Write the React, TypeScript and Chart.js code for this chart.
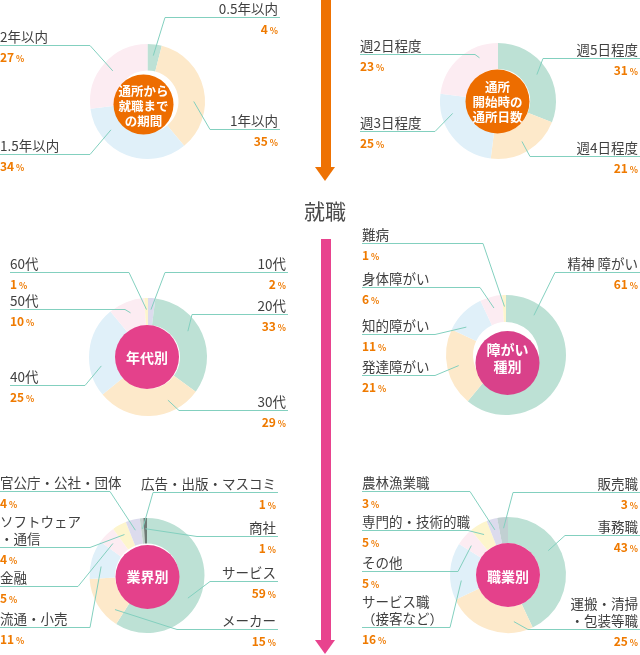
import React, { useEffect, useRef } from "react";
import { Chart, registerables } from "chart.js";

Chart.register(...registerables);

// ---------- data ----------
const periodLabels = ["0.5年以内", "1年以内", "1.5年以内", "2年以内"];
const periodValues = [4, 35, 34, 27];

const daysLabels = ["週5日程度", "週4日程度", "週3日程度", "週2日程度"];
const daysValues = [31, 21, 25, 23];

const ageLabels = ["10代", "20代", "30代", "40代", "50代", "60代"];
const ageValues = [2, 33, 29, 25, 10, 1];

const disabilityLabels = ["精神 障がい", "発達障がい", "知的障がい", "身体障がい", "難病"];
const disabilityValues = [61, 21, 11, 6, 1];

const industryLabels = ["サービス", "メーカー", "流通・小売", "金融", "ソフトウェア・通信", "官公庁・公社・団体", "広告・出版・マスコミ", "商社"];
const industryValues = [59, 15, 11, 5, 4, 4, 1, 1];

const jobLabels = ["事務職", "運搬・清掃・包装等職", "サービス職（接客など）", "その他", "専門的・技術的職", "農林漁業職", "販売職"];
const jobValues = [43, 25, 16, 5, 5, 3, 3];

// ---------- styles ----------
const GREEN = "#bde1d5";
const PEACH = "#fde9ca";
const BLUE = "#e0f0f9";
const PINK = "#fcecf2";
const YELLOW = "#fdf5cd";
const LAVENDER = "#dcdbed";
const GRAYGREEN = "#c4d3ce";
const DARKGRAY = "#6e7b76";
const GRAYBLUE = "#c1d0d2";
const ORANGE = "#ed6d00";
const MAGENTA = "#e4418b";
const LEADER = "#83d0bf";
const TEXT = "#404040";
const PCT = "#ef7a00";
const FONT = '"Noto Sans CJK JP", "Noto Sans", sans-serif';

// at: where along the slice (0..1 of its angle) the leader line starts
type LabelPos = { side: "L" | "R"; uy: number; xa: number; xe: number; lines?: string[]; at?: number };

interface DonutSpec {
  region: [number, number, number, number];
  cx: number;
  cy: number;
  r: number;
  cutout: number;
  circle: { x: number; y: number; r: number; color: string };
  centerLines: string[];
  centerFont: number;
  centerLH: number;
  centerY: number;
  labels: string[];
  values: number[];
  colors: string[];
  layout: LabelPos[];
}

const specs: DonutSpec[] = [
  {
    region: [0, 0, 315, 180],
    cx: 147.5, cy: 101.5, r: 57.5, cutout: 31,
    circle: { x: 143.5, y: 104.5, r: 30, color: ORANGE },
    centerLines: ["通所から", "就職まで", "の期間"], centerFont: 12.5, centerLH: 15, centerY: 105,
    labels: periodLabels, values: periodValues,
    colors: [GREEN, PEACH, BLUE, PINK],
    layout: [
      { side: "R", uy: 17, xa: 280, xe: 165 },
      { side: "R", uy: 129, xa: 280, xe: 210, at: 0.6 },
      { side: "L", uy: 154, xa: 0, xe: 90, at: 0.75 },
      { side: "L", uy: 45, xa: 0, xe: 90 },
    ],
  },
  {
    region: [337, 0, 303, 180],
    cx: 498, cy: 101, r: 58, cutout: 32,
    circle: { x: 497.5, y: 101.5, r: 32, color: ORANGE },
    centerLines: ["通所", "開始時の", "通所日数"], centerFont: 12.5, centerLH: 15, centerY: 101.5,
    labels: daysLabels, values: daysValues,
    colors: [GREEN, PEACH, BLUE, PINK],
    layout: [
      { side: "R", uy: 58, xa: 640, xe: 543 },
      { side: "R", uy: 156, xa: 640, xe: 530 },
      { side: "L", uy: 131, xa: 360, xe: 435, at: 0.75 },
      { side: "L", uy: 54, xa: 360, xe: 475, at: 0.72 },
    ],
  },
  {
    region: [0, 220, 315, 215],
    cx: 148, cy: 357, r: 59, cutout: 32,
    circle: { x: 147, y: 357, r: 32, color: MAGENTA },
    centerLines: ["年代別"], centerFont: 14, centerLH: 17, centerY: 357,
    labels: ageLabels, values: ageValues,
    colors: [LAVENDER, GREEN, PEACH, BLUE, PINK, YELLOW],
    layout: [
      { side: "R", uy: 272, xa: 288, xe: 165 },
      { side: "R", uy: 314, xa: 288, xe: 192, at: 0.42 },
      { side: "R", uy: 410, xa: 288, xe: 179, at: 0.28 },
      { side: "L", uy: 385, xa: 10, xe: 85, at: 0.32 },
      { side: "L", uy: 309, xa: 10, xe: 125 },
      { side: "L", uy: 272, xa: 10, xe: 129 },
    ],
  },
  {
    region: [337, 220, 303, 215],
    cx: 506, cy: 355, r: 60, cutout: 33,
    circle: { x: 507.5, y: 363, r: 32, color: "#d9418a" },
    centerLines: ["障がい", "種別"], centerFont: 14, centerLH: 17, centerY: 358,
    labels: disabilityLabels, values: disabilityValues,
    colors: [GREEN, PEACH, BLUE, PINK, YELLOW],
    layout: [
      { side: "R", uy: 272, xa: 640, xe: 555, at: 0.16 },
      { side: "L", uy: 375, xa: 362, xe: 435 },
      { side: "L", uy: 334, xa: 362, xe: 435, at: 0.25 },
      { side: "L", uy: 287, xa: 362, xe: 480 },
      { side: "L", uy: 243, xa: 362, xe: 483 },
    ],
  },
  {
    region: [0, 440, 315, 215],
    cx: 147, cy: 575.5, r: 57.5, cutout: 32,
    circle: { x: 147.5, y: 577, r: 32, color: MAGENTA },
    centerLines: ["業界別"], centerFont: 14, centerLH: 17, centerY: 576,
    labels: industryLabels, values: industryValues,
    colors: [GREEN, PEACH, BLUE, PINK, YELLOW, LAVENDER, GRAYGREEN, DARKGRAY],
    layout: [
      { side: "R", uy: 581, xa: 278, xe: 210, at: 0.56 },
      { side: "R", uy: 629, xa: 278, xe: 177, at: 0.2 },
      { side: "L", uy: 627, xa: 0, xe: 90, at: 0.37 },
      { side: "L", uy: 586, xa: 0, xe: 78, at: 0.4 },
      { side: "L", uy: 547, xa: 0, xe: 90, lines: ["ソフトウェア", "・通信"] },
      { side: "L", uy: 491, xa: 0, xe: 110 },
      { side: "R", uy: 492, xa: 278, xe: 153 },
      { side: "R", uy: 536, xa: 278, xe: 197 },
    ],
  },
  {
    region: [337, 440, 303, 215],
    cx: 508, cy: 575, r: 58, cutout: 32,
    circle: { x: 508, y: 575, r: 32, color: MAGENTA },
    centerLines: ["職業別"], centerFont: 14, centerLH: 17, centerY: 576,
    labels: jobLabels, values: jobValues,
    colors: [GREEN, PEACH, BLUE, PINK, YELLOW, LAVENDER, GRAYBLUE],
    layout: [
      { side: "R", uy: 535, xa: 640, xe: 565, at: 0.38 },
      { side: "R", uy: 629, xa: 640, xe: 528, lines: ["運搬・清掃", "・包装等職"], at: 0.2 },
      { side: "L", uy: 627, xa: 362, xe: 450, lines: ["サービス職", "（接客など）"], at: 0.32 },
      { side: "L", uy: 571, xa: 362, xe: 458, at: 0.35 },
      { side: "L", uy: 530, xa: 362, xe: 468 },
      { side: "L", uy: 491, xa: 362, xe: 470 },
      { side: "R", uy: 492, xa: 640, xe: 513 },
    ],
  },
];

function leaderPlugin(spec: DonutSpec) {
  return {
    id: "leaders",
    afterDatasetsDraw(chart: any) {
      const ctx = chart.ctx as CanvasRenderingContext2D;
      const meta = chart.getDatasetMeta(0);
      const [rx, ry] = spec.region;
      ctx.save();
      ctx.fillStyle = spec.circle.color;
      ctx.beginPath();
      ctx.arc(spec.circle.x - rx, spec.circle.y - ry, spec.circle.r, 0, Math.PI * 2);
      ctx.fill();
      ctx.strokeStyle = LEADER;
      ctx.lineWidth = 1;
      meta.data.forEach((arc: any, i: number) => {
        const L = spec.layout[i];
        if (!L) return;
        const p = arc.getProps(["x", "y", "startAngle", "endAngle", "innerRadius", "outerRadius"], false);
        const f = L.at === undefined ? 0.5 : L.at;
        const ang = p.startAngle + f * (p.endAngle - p.startAngle);
        const rad = (p.innerRadius + p.outerRadius) / 2 + 2;
        ctx.beginPath();
        ctx.moveTo(p.x + Math.cos(ang) * rad, p.y + Math.sin(ang) * rad);
        ctx.lineTo(L.xe - rx, L.uy - ry + 0.5);
        ctx.lineTo(L.xa - rx, L.uy - ry + 0.5);
        ctx.stroke();
      });
      ctx.restore();
    },
  };
}

function Donut({ spec }: { spec: DonutSpec }) {
  const ref = useRef<HTMLCanvasElement | null>(null);
  useEffect(() => {
    if (!ref.current) return;
    const [rx, ry, rw, rh] = spec.region;
    const chart = new Chart(ref.current, {
      type: "doughnut",
      data: {
        labels: spec.labels,
        datasets: [
          {
            data: spec.values,
            backgroundColor: spec.colors,
            borderWidth: 0,
            hoverOffset: 0,
          },
        ],
      },
      options: {
        responsive: true,
        maintainAspectRatio: false,
        animation: false,
        cutout: spec.cutout,
        events: [],
        layout: {
          padding: {
            left: spec.cx - spec.r - rx,
            top: spec.cy - spec.r - ry,
            right: rx + rw - (spec.cx + spec.r),
            bottom: ry + rh - (spec.cy + spec.r),
          },
        },
        plugins: { legend: { display: false }, tooltip: { enabled: false } },
      } as any,
      plugins: [leaderPlugin(spec)],
    });
    return () => chart.destroy();
  }, [spec]);

  const [rx, ry, rw, rh] = spec.region;
  const nC = spec.centerLines.length;
  return (
    <>
      <div style={{ position: "absolute", left: rx, top: ry, width: rw, height: rh }}>
        <canvas ref={ref} />
      </div>
      <div
        style={{
          position: "absolute",
          left: spec.circle.x - 45,
          width: 90,
          top: spec.centerY - (nC * spec.centerLH) / 2,
          textAlign: "center",
          color: "#fff",
          fontWeight: 700,
          fontSize: spec.centerFont,
          lineHeight: spec.centerLH + "px",
        }}
      >
        {spec.centerLines.map((t, i) => (
          <div key={i}>{t}</div>
        ))}
      </div>
      {spec.layout.map((L, i) => {
        const lines = L.lines || [spec.labels[i]];
        const n = lines.length;
        const horiz: React.CSSProperties =
          L.side === "L"
            ? { left: L.xa, textAlign: "left" }
            : { right: 640 - L.xa + 2, textAlign: "right" };
        return (
          <React.Fragment key={i}>
            <div
              style={{
                position: "absolute",
                top: L.uy - 17.5 - 17 * (n - 1),
                whiteSpace: "nowrap",
                color: TEXT,
                fontSize: 13.5,
                lineHeight: "17px",
                ...horiz,
              }}
            >
              {lines.map((t, k) => (
                <div key={k}>{t}</div>
              ))}
            </div>
            <div
              style={{
                position: "absolute",
                top: L.uy + 3,
                whiteSpace: "nowrap",
                color: PCT,
                fontWeight: 700,
                lineHeight: "14px",
                ...horiz,
              }}
            >
              <span style={{ fontSize: 12 }}>{spec.values[i]}</span>
              <span style={{ fontSize: 8.5 }}> %</span>
            </div>
          </React.Fragment>
        );
      })}
    </>
  );
}

export default function App() {
  return (
    <div
      style={{
        position: "absolute",
        left: 0,
        top: 0,
        width: 640,
        height: 655,
        background: "#fff",
        overflow: "hidden",
        fontFamily: FONT,
      }}
    >
      {specs.map((s, i) => (
        <Donut key={i} spec={s} />
      ))}
      {/* orange arrow */}
      <div style={{ position: "absolute", left: 321, top: 0, width: 10, height: 168, background: "#ee7203" }} />
      <div
        style={{
          position: "absolute",
          left: 315,
          top: 167,
          width: 0,
          height: 0,
          borderLeft: "10.5px solid transparent",
          borderRight: "10.5px solid transparent",
          borderTop: "14px solid #ee7203",
        }}
      />
      <div
        style={{
          position: "absolute",
          left: 285,
          width: 80,
          top: 197,
          textAlign: "center",
          fontSize: 21,
          lineHeight: "26px",
          color: "#4b4b4b",
        }}
      >
        就職
      </div>
      {/* pink arrow */}
      <div style={{ position: "absolute", left: 321, top: 239, width: 10, height: 402, background: "#e8438e" }} />
      <div
        style={{
          position: "absolute",
          left: 315,
          top: 640,
          width: 0,
          height: 0,
          borderLeft: "10.5px solid transparent",
          borderRight: "10.5px solid transparent",
          borderTop: "14px solid #e8438e",
        }}
      />
    </div>
  );
}
